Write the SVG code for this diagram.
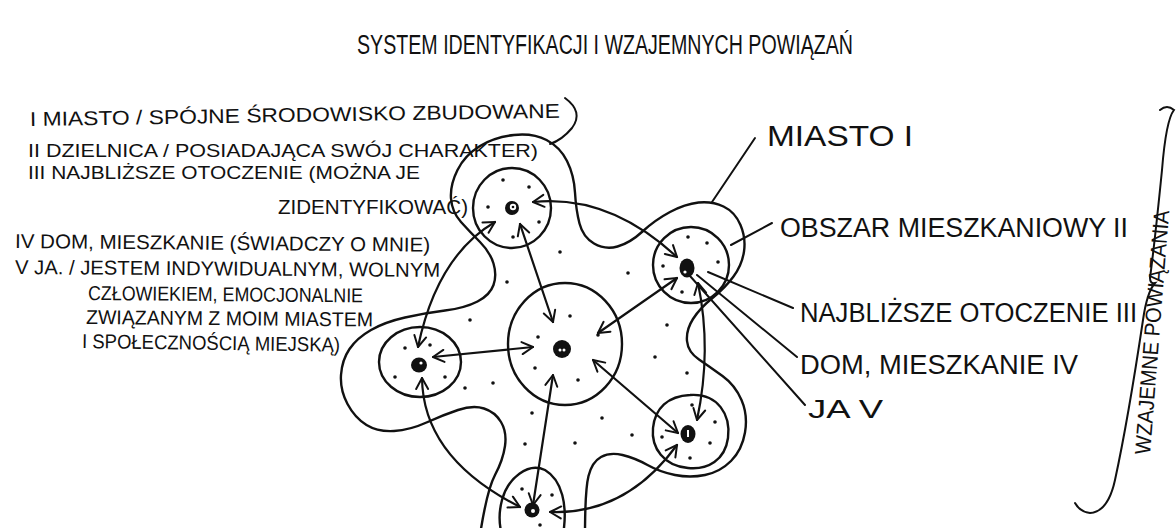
<svg xmlns="http://www.w3.org/2000/svg" width="1176" height="528" viewBox="0 0 1176 528">
<style>
.t{font-family:"Liberation Sans",Arial,sans-serif;fill:#111;}
.ln{fill:none;stroke:#111;stroke-width:2.4;stroke-linecap:round;stroke-linejoin:round;}
.ld{fill:none;stroke:#111;stroke-width:2;stroke-linecap:round;}
.sp{fill:#111;}
.con{fill:none;stroke:#111;stroke-width:2.2;stroke-linecap:round;marker-start:url(#ah);marker-end:url(#ah);}
</style>
<defs>
<marker id="ah" markerUnits="userSpaceOnUse" markerWidth="16" markerHeight="16" viewBox="0 0 16 16" refX="13" refY="8" orient="auto-start-reverse">
<path d="M2,2 L13,8 L2,14" fill="none" stroke="#111" stroke-width="2" stroke-linecap="round" stroke-linejoin="round"/>
</marker>
</defs>
<rect width="1176" height="528" fill="#fff"/>

<g id="title">
<text class="t" x="357" y="54" font-size="27" textLength="496" lengthAdjust="spacingAndGlyphs">SYSTEM IDENTYFIKACJI I WZAJEMNYCH POWIĄZAŃ</text>
</g>

<g id="legend" font-size="20">
<text class="t" x="30" y="126" textLength="530" lengthAdjust="spacingAndGlyphs" transform="rotate(-0.9 30 126)">I MIASTO / SPÓJNE ŚRODOWISKO ZBUDOWANE</text>
<path class="ld" d="M565,98 Q584,112 572,128 Q562,140 550,144"/>
<text class="t" x="28" y="157" font-size="19" textLength="510" lengthAdjust="spacingAndGlyphs">II DZIELNICA / POSIADAJĄCA SWÓJ CHARAKTER)</text>
<text class="t" x="28" y="179" font-size="19" textLength="392" lengthAdjust="spacingAndGlyphs">III NAJBLIŻSZE OTOCZENIE (MOŻNA JE</text>
<text class="t" x="278" y="214" textLength="190" lengthAdjust="spacingAndGlyphs">ZIDENTYFIKOWAĆ)</text>
<text class="t" x="15" y="248" textLength="415" lengthAdjust="spacingAndGlyphs" transform="rotate(0.5 15 248)">IV DOM, MIESZKANIE (ŚWIADCZY O MNIE)</text>
<text class="t" x="15" y="274" textLength="425" lengthAdjust="spacingAndGlyphs" transform="rotate(0.4 15 274)">V JA. / JESTEM INDYWIDUALNYM, WOLNYM</text>
<text class="t" x="88" y="300" textLength="275" lengthAdjust="spacingAndGlyphs" transform="rotate(0.5 88 300)">CZŁOWIEKIEM, EMOCJONALNIE</text>
<text class="t" x="86" y="324" textLength="287" lengthAdjust="spacingAndGlyphs" transform="rotate(0.5 86 324)">ZWIĄZANYM Z MOIM MIASTEM</text>
<text class="t" x="82" y="348" textLength="258" lengthAdjust="spacingAndGlyphs" transform="rotate(0.8 82 348)">I SPOŁECZNOŚCIĄ MIEJSKĄ)</text>
</g>

<g id="city">
<path class="ln" d="M480,535 Q487,490 495,475 Q503,460 505,446 Q507,432 501,422 Q495,412 484,408.5 Q473,405 458,410 Q443,415 426.5,422.5 Q410,430 394,431 Q378,432 366.5,425 Q355,418 347.5,404 Q340,390 341,375 Q342,360 349.5,349 Q357,338 371,330 Q385,322 405,317.5 Q425,313 445,310.5 Q465,308 477.5,301.5 Q490,295 493.5,285 Q497,275 493.5,263.5 Q490,252 480,242 Q470,232 461,222 Q452,212 451,198.5 Q450,185 457.5,170 Q465,155 480,146 Q495,137 514,135 Q533,133 546.5,140 Q560,147 567,161 Q574,175 575,192.5 Q576,210 579.5,223.5 Q583,237 594,243.5 Q605,250 617.5,246.5 Q630,243 642.5,231.5 Q655,220 670,212 Q685,204 698.5,202.5 Q712,201 723.5,206.5 Q735,212 740.5,225 Q746,238 744,251.5 Q742,265 733.5,276.5 Q725,288 712.5,298 Q700,308 693,319 Q686,330 687,341 Q688,352 699,359.5 Q710,367 722.5,376 Q735,385 741.5,400 Q748,415 745,432.5 Q742,450 731,461 Q720,472 705,475 Q690,478 675,475 Q660,472 647.5,465 Q635,458 622.5,455 Q610,452 601,457 Q592,462 588.5,476 Q585,490 585,535"/>
<g class="sp">
<circle cx="560" cy="252" r="1.8"/><circle cx="507" cy="282" r="1.8"/><circle cx="628" cy="273" r="1.8"/>
<circle cx="667" cy="325" r="1.8"/><circle cx="470" cy="320" r="1.8"/><circle cx="655" cy="357" r="1.8"/>
<circle cx="687" cy="373" r="1.8"/><circle cx="493" cy="383" r="1.8"/><circle cx="465" cy="388" r="1.8"/>
<circle cx="532" cy="413" r="1.8"/><circle cx="602" cy="418" r="1.8"/><circle cx="632" cy="435" r="1.8"/>
<circle cx="525" cy="444" r="1.8"/><circle cx="575" cy="443" r="1.8"/>
</g>
</g>

<g id="node-top">
<ellipse class="ln" cx="512" cy="208" rx="39" ry="40"/>
<circle cx="512" cy="208" r="7" fill="#111"/><circle cx="513" cy="207" r="3.2" fill="#fff"/><circle cx="513" cy="207" r="1.3" fill="#111"/>
<g class="sp"><circle cx="503" cy="180" r="1.8"/><circle cx="529" cy="187" r="1.8"/><circle cx="488" cy="207" r="1.8"/><circle cx="539" cy="222" r="1.8"/><circle cx="513" cy="237" r="1.8"/></g>
</g>

<g id="node-right">
<ellipse class="ln" cx="691" cy="265" rx="38" ry="38"/>
<ellipse cx="687" cy="268" rx="7.5" ry="9.5" fill="#111"/><circle cx="685" cy="272" r="1.6" fill="#fff"/>
<g class="sp"><circle cx="688" cy="237" r="1.8"/><circle cx="707" cy="243" r="1.8"/><circle cx="718" cy="262" r="1.8"/><circle cx="663" cy="266" r="1.8"/><circle cx="682" cy="292" r="1.8"/></g>
</g>

<g id="node-left">
<ellipse class="ln" cx="420" cy="362" rx="41" ry="35"/>
<ellipse cx="419" cy="365" rx="8" ry="7.5" fill="#111"/><circle cx="421" cy="363" r="1.6" fill="#fff"/>
<g class="sp"><circle cx="405" cy="348" r="1.8"/><circle cx="430" cy="345" r="1.8"/><circle cx="395" cy="377" r="1.8"/><circle cx="445" cy="377" r="1.8"/></g>
</g>

<g id="node-center">
<ellipse class="ln" cx="565" cy="344" rx="57" ry="61"/>
<circle cx="562" cy="349" r="9" fill="#111"/><circle cx="560" cy="350" r="1.5" fill="#fff"/><circle cx="564" cy="350" r="1.5" fill="#fff"/>
<g class="sp"><circle cx="538" cy="337" r="1.8"/><circle cx="570" cy="316" r="1.8"/><circle cx="535" cy="368" r="1.8"/><circle cx="578" cy="380" r="1.8"/><circle cx="598" cy="335" r="1.8"/></g>
</g>

<g id="node-bottomright">
<path class="ln" d="M690,395 C718,393 731,415 728,438 C725,460 708,470 688,468 C664,466 651,448 653,428 C655,408 668,396 690,395 Z"/>
<ellipse cx="688" cy="434" rx="7.5" ry="9" fill="#111"/><rect x="687" y="430" width="2" height="7" fill="#fff"/>
<g class="sp"><circle cx="692" cy="405" r="1.8"/><circle cx="715" cy="422" r="1.8"/><circle cx="662" cy="437" r="1.8"/><circle cx="710" cy="443" r="1.8"/><circle cx="690" cy="458" r="1.8"/></g>
</g>

<g id="node-bottom">
<path class="ln" d="M563,535 C568,505 562,480 545,470 C528,462 508,478 502,500 C498,515 500,528 502,535"/>
<circle cx="532" cy="510" r="7.5" fill="#111"/><circle cx="533" cy="511" r="2" fill="#fff"/>
<g class="sp"><circle cx="522" cy="489" r="1.8"/><circle cx="552" cy="495" r="1.8"/><circle cx="540" cy="525" r="1.8"/></g>
</g>

<g id="connectors">
<path class="con" d="M533,202 Q609,194 677,257"/>
<path class="con" d="M520,224 L553,322"/>
<path class="con" d="M495,222 Q437,256 418,347"/>
<path class="con" d="M433,357 L533,347"/>
<path class="con" d="M677,278 L598,333"/>
<path class="con" d="M698,283 Q712,350 697,420"/>
<path class="con" d="M593,360 L678,433"/>
<path class="con" d="M553,375 L533,505"/>
<path class="con" d="M422,378 Q423,458 520,507"/>
<path class="con" d="M550,512 Q626,515 677,445"/>
</g>

<g id="labels">
<path class="ld" d="M712,202 L755,138"/>
<text class="t" x="767" y="146" font-size="30" textLength="146" lengthAdjust="spacingAndGlyphs">MIASTO I</text>
<path class="ld" d="M731,245 L772,223"/>
<text class="t" x="780" y="237" font-size="27" textLength="348" lengthAdjust="spacingAndGlyphs">OBSZAR MIESZKANIOWY II</text>
<path class="ld" d="M708,272 L793,308"/>
<text class="t" x="800" y="322" font-size="27" textLength="337" lengthAdjust="spacingAndGlyphs">NAJBLIŻSZE OTOCZENIE III</text>
<path class="ld" d="M697,275 L797,357"/>
<text class="t" x="800" y="374" font-size="27" textLength="278" lengthAdjust="spacingAndGlyphs">DOM, MIESZKANIE IV</text>
<path class="ld" d="M690,276 L805,405"/>
<text class="t" x="808" y="418" font-size="26" textLength="75" lengthAdjust="spacingAndGlyphs">JA V</text>
</g>

<g id="brace">
<path class="ld" d="M1160,110 Q1167,104 1174,110 Q1166,120 1162,170 Q1155,240 1150,278 Q1150,284 1155,283 Q1147,292 1143,320 Q1128,420 1115,480 Q1108,512 1090,513 Q1080,512 1075,503"/>
<text class="t" x="1150" y="455" font-size="22" textLength="245" lengthAdjust="spacingAndGlyphs" transform="rotate(-85.5 1150 455)">WZAJEMNE POWIĄZANIA</text>
</g>
</svg>
